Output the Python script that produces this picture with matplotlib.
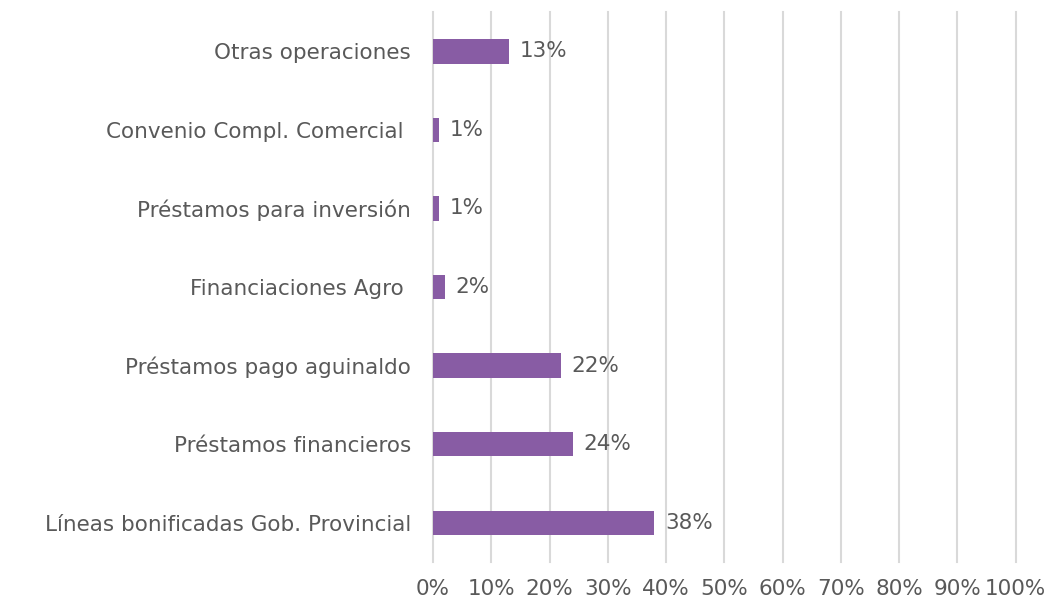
import numpy as np
import matplotlib.pyplot as plt
from matplotlib.ticker import FuncFormatter

# data
categories = ["Otras operaciones", "Convenio Compl. Comercial ", "Préstamos para inversión",
              "Financiaciones Agro ", "Préstamos pago aguinaldo", "Préstamos financieros",
              "Líneas bonificadas Gob. Provincial"]
values = [13, 1, 1, 2, 22, 24, 38]
xticks = [0, 10, 20, 30, 40, 50, 60, 70, 80, 90, 100]

txt = "#595959"
plt.rcParams['font.family'] = ['DejaVu Sans']

fig = plt.figure(figsize=(10.46, 6.03), dpi=100)
ax = fig.add_axes([0.414, 0.068, 0.557, 0.912])

y = np.arange(len(categories))[::-1]
ax.barh(y, values, height=0.31, color="#885ca4", zorder=3)
for yi, v in zip(y, values):
    ax.text(v + 1.8, yi, f"{v}%", va="center", ha="left", fontsize=15.5, color=txt)

ax.set_xlim(0, 100)
ax.set_ylim(-0.5, len(categories) - 0.5)
ax.set_xticks(xticks)
ax.xaxis.set_major_formatter(FuncFormatter(lambda v, p: f"{int(v)}%"))
ax.set_yticks(y)
ax.set_yticklabels(categories)
ax.grid(axis="x", color="#d9d9d9", linewidth=1.5, zorder=0)
# don't let the edge gridlines get clipped to half width
for gl in ax.get_xgridlines():
    gl.set_clip_on(False)
for s in ax.spines.values():
    s.set_visible(False)
ax.tick_params(axis="both", length=0, labelsize=15.5, labelcolor=txt)
ax.tick_params(axis="x", pad=12)
ax.tick_params(axis="y", pad=16)

fig.savefig("out.png", dpi=100)
